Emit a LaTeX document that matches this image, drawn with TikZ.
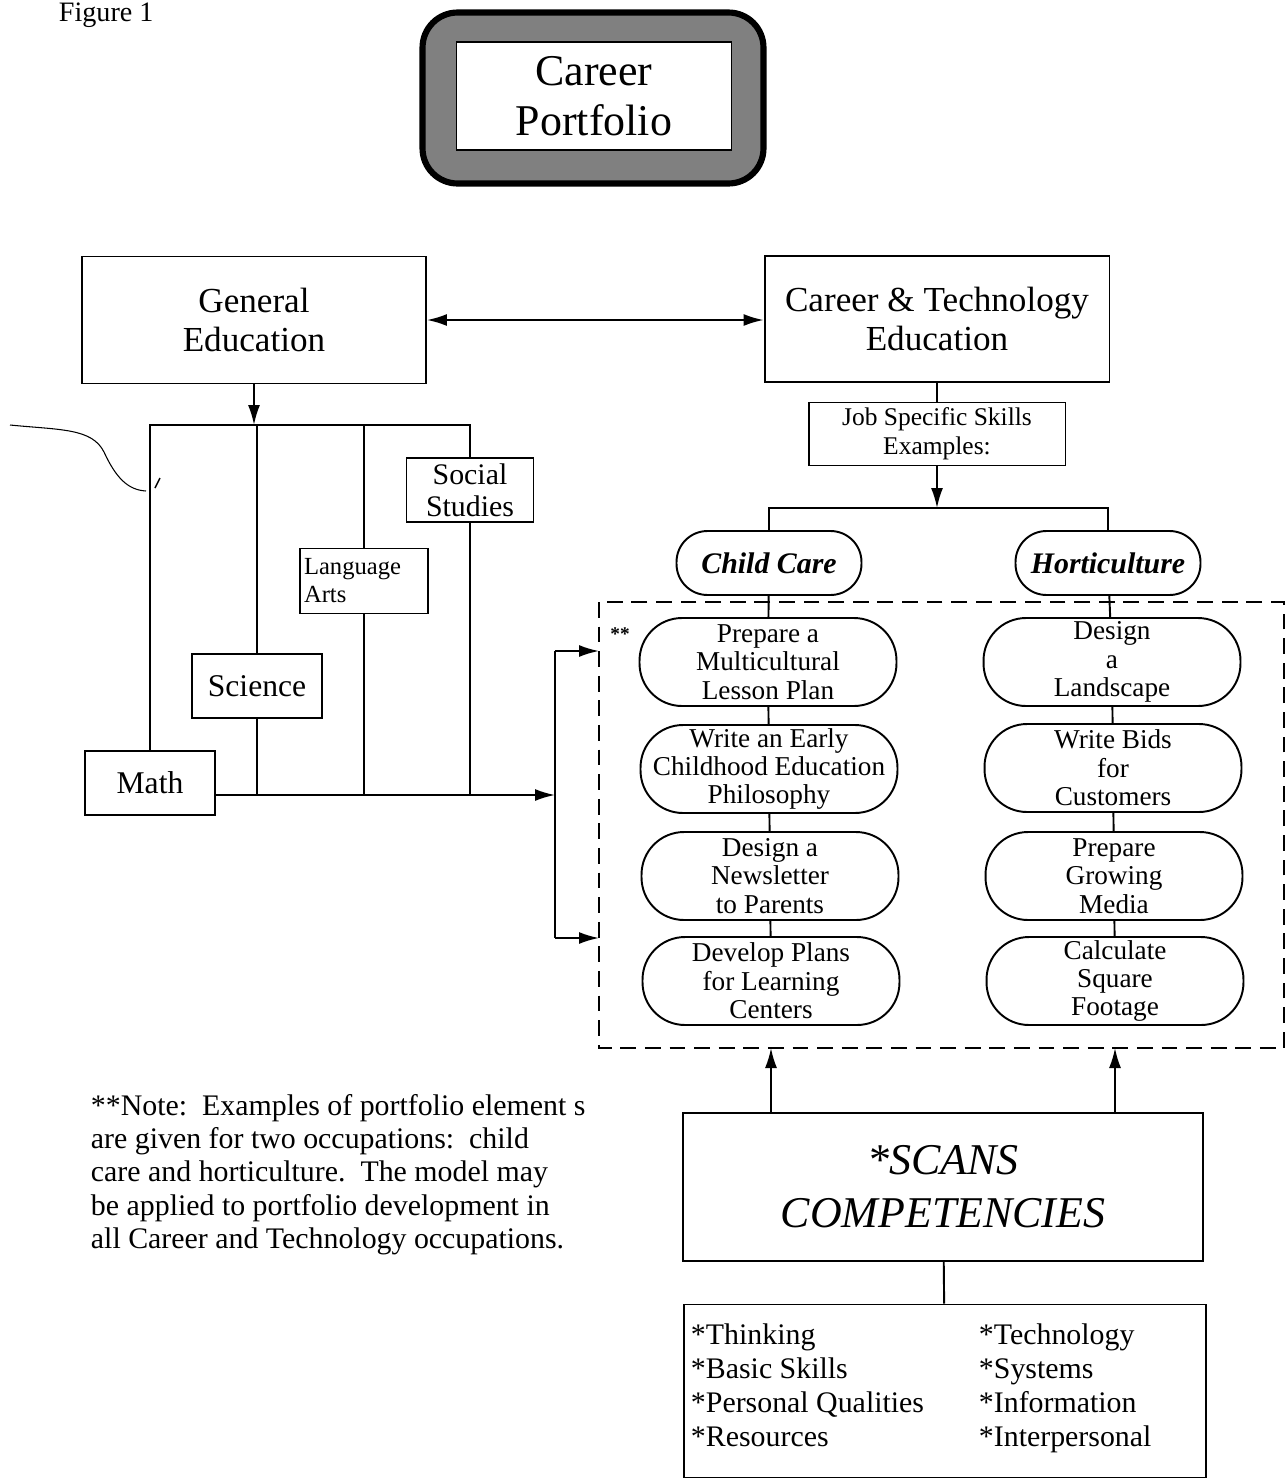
\documentclass[tikz,border=0pt]{standalone}
\usepackage{fontspec}
\setmainfont{Liberation Serif}
\usetikzlibrary{positioning,arrows.meta}

\begin{document}
\begin{tikzpicture}[x=0.02cm, y=-0.02cm, line width=1.1pt,
    box/.style = {draw, rectangle, align=center, inner sep=1pt},
    pill/.style = {draw, rectangle, rounded corners=0.85cm, align=center, minimum width=5.14cm, minimum height=1.76cm, inner sep=1pt, font=\fontsize{15.5}{16.2}\selectfont},
    job/.style = {draw, rectangle, rounded corners=0.62cm, minimum width=3.7cm, minimum height=1.28cm, font=\fontsize{17}{19}\selectfont\bfseries\itshape},
    arr/.style = {-{Latex[length=4mm,width=2.4mm]}},
    darr/.style = {{Latex[length=4mm,width=2.4mm]}-{Latex[length=4mm,width=2.4mm]}}]
    \useasboundingbox (0,0) rectangle (1287,1481);

    \node[anchor=base west, inner sep=0, font=\fontsize{16}{19}\selectfont] (fig) at (58,21) {Figure 1};

    % title frame
    \node[draw, fill=black!50, rounded corners=0.7cm, line width=3.5pt, minimum width=6.82cm, minimum height=3.42cm] (frame) at (593,98) {};
    \node[box, fill=white, minimum width=5.5cm, minimum height=2.16cm, font=\fontsize{25}{28.5}\selectfont] (port) at (594,96) {Career\\Portfolio};

    % top row
    \node[box, minimum width=6.88cm, minimum height=2.54cm, font=\fontsize{20}{22.2}\selectfont] (gen) at (254,320) {General\\Education};
    \node[box, minimum width=6.9cm, minimum height=2.52cm, font=\fontsize{20}{22.2}\selectfont] (cte) at (937,319) {Career \& Technology\\Education};
    \draw[darr] (gen.east) -- (gen.east -| cte.west);

    % general education subjects
    \node[box, minimum width=2.6cm, minimum height=1.28cm, font=\fontsize{18}{20}\selectfont] (math) at (150,783) {Math};
    \node[box, minimum width=2.6cm, minimum height=1.28cm, font=\fontsize{18}{20}\selectfont] (sci) at (257,686) {Science};
    \node[box, minimum height=1.3cm, text width=2.4cm, inner xsep=0.08cm, align=left, font=\fontsize{14}{16}\selectfont] (lang) at (364,581) {Language\\Arts};
    \node[box, minimum width=2.54cm, minimum height=1.28cm, font=\fontsize{17}{18.2}\selectfont] (soc) at (470,490) {Social\\Studies};

    \coordinate (tb) at (254,425);
    \coordinate (bb) at (555,795);
    \coordinate (in1) at (599,651);
    \coordinate (in2) at (599,938);
    \draw[arr] (gen.south) -- (gen.south |- tb);
    \draw (math.north) -- (math.north |- tb) -- (soc.north |- tb) -- (soc.north);
    \draw (sci.north) -- (sci.north |- tb);
    \draw (lang.north) -- (lang.north |- tb);
    \draw (sci.south) -- (sci.south |- bb);
    \draw (lang.south) -- (lang.south |- bb);
    \draw (soc.south) -- (soc.south |- bb);
    \draw[arr] (math.east |- bb) -- (bb);
    \draw (bb |- in1) -- (bb |- in2);
    \draw[arr] (bb |- in1) -- (in1);
    \draw[arr] (bb |- in2) -- (in2);

    % scribble
    \draw[line width=0.6pt] (10,425) .. controls (60,430) and (92,428) .. (104,452) .. controls (116,478) and (128,490) .. (146,491);
    \draw[line width=0.8pt] (160,478) -- (155,488);

    % job specific skills
    \node[box, minimum width=5.14cm, minimum height=1.26cm, font=\fontsize{14.5}{16.5}\selectfont] (jss) at (937,434) {Job Specific Skills\\Examples:};
    \coordinate (rb) at (937,508);
    \draw (cte) -- (jss);
    \draw[arr] (jss) -- (rb);
    \node[job] (child) at (769,563) {Child Care};
    \node[job] (hort) at (1108,563) {Horticulture};
    \draw (child.north) |- (rb) -| (hort.north);

    % portfolio elements
    \draw[dashed, dash pattern=on 9pt off 5pt] (599,602) rectangle (1284,1048);
    \coordinate (dbot) at (943,1048);
    \node[font=\fontsize{11}{12}\selectfont\bfseries] (stars) at (620,634) {**};
    \node[pill] (c1) at (768,662) {Prepare a\\Multicultural\\Lesson Plan};
    \node[pill] (c2) at (769,769) {Write an Early\\Childhood Education\\Philosophy};
    \node[pill] (c3) at (770,876) {Design a\\Newsletter\\to Parents};
    \node[pill] (c4) at (771,981) {Develop Plans\\for Learning\\Centers};
    \node[pill] (h1) at (1112,662) {Design\\a\\Landscape};
    \node[pill] (h2) at (1113,768) {Write Bids\\for\\Customers};
    \node[pill] (h3) at (1114,876) {Prepare\\Growing\\Media};
    \node[pill] (h4) at (1115,981) {Calculate\\Square\\Footage};
    \draw (child) -- (c1) -- (c2) -- (c3) -- (c4);
    \draw (hort) -- (h1) -- (h2) -- (h3) -- (h4);

    % scans
    \node[box, minimum width=10.42cm, minimum height=2.96cm, font=\fontsize{25}{30}\selectfont\itshape] (scans) at (943,1187) {*SCANS\\COMPETENCIES};
    \draw[arr] (c4 |- scans.north) -- (c4 |- dbot);
    \draw[arr] (h4 |- scans.north) -- (h4 |- dbot);
    \node[box, minimum width=10.44cm, minimum height=3.46cm] (list) at (945,1391) {};
    \draw (scans) -- (list);
    \node[anchor=north west, align=left, inner sep=0, font=\fontsize{17}{19.3}\selectfont] (lcol) at (690,1323) {*Thinking\\*Basic Skills\\*Personal Qualities\\*Resources};
    \node[anchor=north west, align=left, inner sep=0, font=\fontsize{17}{19.3}\selectfont] (rcol) at (978,1323) {*Technology\\*Systems\\*Information\\*Interpersonal};

    % note
    \node[anchor=north west, align=left, inner sep=0, font=\fontsize{17}{19}\selectfont] (note) at (90,1093) {**Note:\ \ Examples of portfolio element s\\are given for two occupations:\ \ child\\care and horticulture.\ \ The model may\\be applied to portfolio development in\\all Career and Technology occupations.};
\end{tikzpicture}
\end{document}
